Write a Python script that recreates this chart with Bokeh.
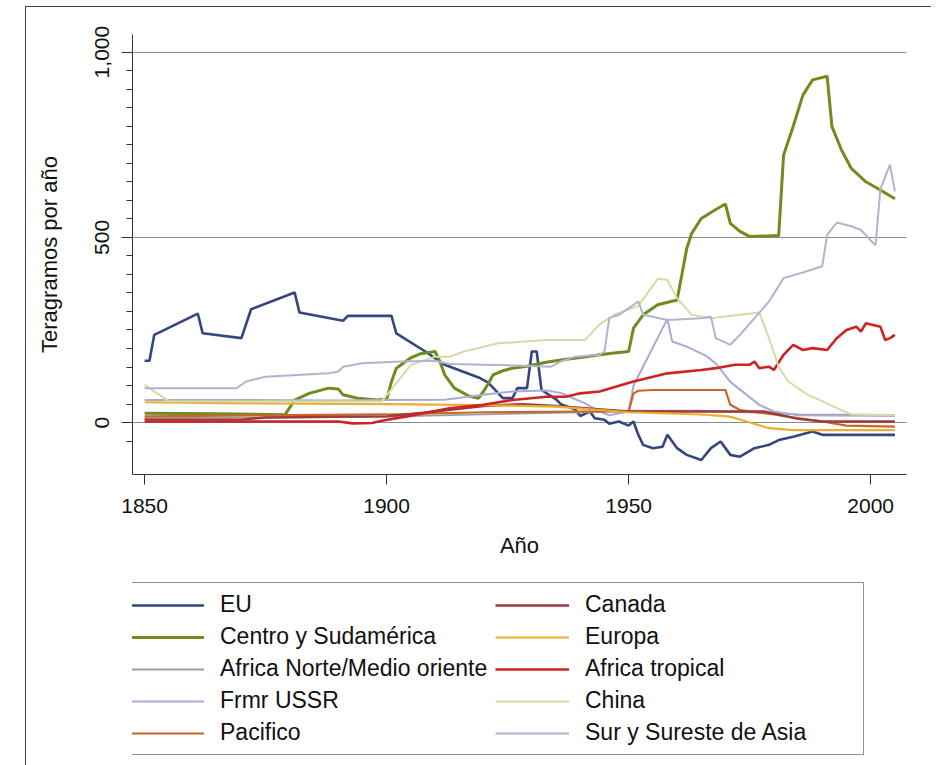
from bokeh.plotting import figure
from bokeh.layouts import column
from bokeh.models import (Range1d, FixedTicker, NumeralTickFormatter, Legend, LegendItem)
from bokeh.embed import file_html
from bokeh.resources import INLINE

# ---------------- data (Teragramos por año) ----------------
eu_pts = [(1850, 167), (1851, 167), (1852, 237), (1861, 294), (1862, 241), (1870, 228), (1872, 306),
          (1881, 351), (1882, 297), (1891, 275), (1892, 288), (1901, 288), (1902, 241), (1908, 192),
          (1912, 156), (1919, 122), (1921, 108), (1924, 66), (1926, 66), (1927, 93), (1929, 93),
          (1930, 192), (1931, 192), (1932, 88), (1935, 63), (1936, 50), (1939, 35), (1940, 18),
          (1942, 30), (1943, 12), (1945, 8), (1946, -3), (1948, 3), (1950, -8), (1951, 3), (1952, -33),
          (1953, -60), (1955, -69), (1957, -65), (1958, -33), (1960, -69), (1962, -87), (1965, -101),
          (1967, -69), (1969, -51), (1971, -87), (1973, -92), (1976, -69), (1979, -60), (1981, -47),
          (1984, -38), (1988, -24), (1990, -33), (2005, -33)]
csa_pts = [(1850, 25), (1865, 24), (1879, 21), (1881, 61), (1884, 79), (1888, 93), (1890, 91), (1891, 75),
           (1894, 66), (1898, 61), (1900, 63), (1901, 110), (1902, 147), (1905, 175), (1907, 186),
           (1910, 192), (1911, 165), (1912, 129), (1914, 93), (1917, 72), (1919, 66), (1920, 84),
           (1921, 105), (1922, 129), (1924, 140), (1926, 147), (1929, 152), (1933, 163), (1936, 169),
           (1940, 176), (1944, 183), (1947, 188), (1950, 192), (1951, 255), (1953, 291), (1956, 318),
           (1960, 331), (1961, 400), (1962, 470), (1963, 510), (1965, 551), (1968, 575), (1970, 590),
           (1971, 538), (1973, 516), (1975, 502), (1981, 505), (1982, 722), (1984, 800), (1986, 884),
           (1988, 925), (1991, 935), (1992, 799), (1994, 735), (1996, 686), (1999, 650), (2002, 628),
           (2005, 604)]
anmo_pts = [(1850, 12), (1880, 14), (1900, 16), (1920, 22), (1940, 28), (1950, 32), (1965, 32),
            (1975, 28), (1985, 22), (2005, 21)]
ussr_pts = [(1850, 61), (1870, 61), (1890, 60), (1900, 61), (1912, 62), (1920, 75), (1926, 84),
            (1933, 87), (1936, 80), (1941, 52), (1944, 30), (1946, 20), (1950, 30), (1951, 100),
            (1958, 280), (1959, 219), (1962, 205), (1966, 180), (1968, 160), (1971, 110), (1977, 48),
            (1980, 30), (1985, 20), (2005, 18)]
pacifico_pts = [(1850, 17), (1880, 20), (1900, 22), (1920, 28), (1940, 30), (1950, 30), (1951, 79),
                (1952, 86), (1955, 88), (1970, 88), (1971, 48), (1973, 34), (1980, 22), (1990, 3),
                (1995, -8), (2005, -11)]
canada_pts = [(1850, 8), (1870, 8), (1875, 14), (1900, 17), (1910, 30), (1920, 45), (1928, 50),
              (1935, 45), (1945, 35), (1950, 30), (1978, 30), (1985, 10), (1990, 3), (2005, 3)]
europa_pts = [(1850, 55), (1870, 52), (1900, 50), (1920, 47), (1935, 43), (1950, 28), (1965, 22),
              (1971, 16), (1979, -15), (1984, -20), (2005, -20)]
afrtrop_pts = [(1850, 3), (1890, 3), (1893, -2), (1897, -1), (1899, 5), (1906, 21), (1913, 39),
               (1920, 48), (1926, 61), (1933, 70), (1937, 70), (1940, 79), (1944, 84), (1951, 111),
               (1958, 133), (1965, 142), (1968, 147), (1972, 156), (1975, 156), (1976, 165), (1977, 147),
               (1979, 151), (1980, 142), (1982, 183), (1984, 210), (1986, 196), (1988, 201), (1991, 196),
               (1993, 228), (1995, 250), (1997, 259), (1998, 246), (1999, 268), (2002, 259), (2003, 223),
               (2004, 228), (2005, 237)]
china_pts = [(1850, 102), (1855, 58), (1880, 57), (1899, 58), (1901, 90), (1905, 156), (1910, 178),
             (1913, 178), (1916, 192), (1923, 214), (1933, 223), (1941, 223), (1944, 265), (1947, 291),
             (1952, 315), (1956, 388), (1958, 385), (1960, 336), (1963, 291), (1967, 282), (1977, 297),
             (1979, 228), (1981, 150), (1983, 111), (1987, 75), (1990, 58), (1993, 39), (1996, 22),
             (2005, 20)]
sur_pts = [(1850, 93), (1869, 93), (1871, 111), (1875, 124), (1888, 133), (1890, 138), (1891, 151),
           (1895, 160), (1903, 165), (1910, 167), (1913, 158), (1925, 155), (1934, 151), (1936, 165),
           (1939, 178), (1944, 183), (1945, 192), (1946, 282), (1948, 291), (1952, 327), (1953, 291),
           (1958, 277), (1965, 282), (1967, 286), (1968, 228), (1971, 210), (1973, 237), (1976, 282),
           (1979, 327), (1982, 390), (1986, 405), (1990, 422), (1991, 507), (1993, 540), (1996, 530),
           (1998, 520), (2001, 478), (2002, 630), (2004, 696), (2005, 624)]

series_names = ["EU", "Centro y Sudamérica", "Africa Norte/Medio oriente", "Frmr USSR", "Pacifico",
                "Canada", "Europa", "Africa tropical", "China", "Sur y Sureste de Asia"]
series_points = [eu_pts, csa_pts, anmo_pts, ussr_pts, pacifico_pts,
                 canada_pts, europa_pts, afrtrop_pts, china_pts, sur_pts]
series_colors = ["#34467e", "#6f8c1f", "#9d9d9d", "#aaaad6", "#c8652c",
                 "#9c3a3c", "#e8b030", "#cf2222", "#d5dba6", "#b3b3cf"]
series_widths = [2.6, 3, 1.8, 2, 2.2, 2.4, 2.2, 2.6, 2, 2]

y_major = [0, 500, 1000]
y_minor = [v for v in range(-50, 1001, 50) if v not in (0, 500, 1000)]
x_major = [1850, 1900, 1950, 2000]

FONT = "Liberation Sans"

# ---------------- main chart ----------------
p = figure(width=905, height=560, output_backend="svg", toolbar_location=None,
           x_range=Range1d(1847.5, 2007.4), y_range=Range1d(-140, 1047.5),
           min_border_left=106, min_border_right=25, min_border_top=27, min_border_bottom=93,
           background_fill_color="white", border_fill_color="white")
p.outline_line_color = None

p.xaxis.ticker = FixedTicker(ticks=x_major)
p.yaxis.ticker = FixedTicker(ticks=y_major, minor_ticks=y_minor)
p.yaxis.formatter = NumeralTickFormatter(format="0,0")
for ax in (p.xaxis[0], p.yaxis[0]):
    ax.axis_line_color = "#333333"
    ax.major_tick_line_color = "#333333"
    ax.minor_tick_line_color = "#333333"
    ax.major_tick_in = 0
    ax.minor_tick_in = 0
    ax.major_label_text_font = FONT
    ax.major_label_text_font_size = "21px"
    ax.major_label_text_color = "#111111"
    ax.axis_label_text_font = FONT
    ax.axis_label_text_font_size = "22px"
    ax.axis_label_text_font_style = "normal"
    ax.axis_label_text_color = "#111111"
p.xaxis.major_tick_out = 10
p.xaxis.minor_tick_line_color = None
p.xaxis.major_label_standoff = 14
p.xaxis.axis_label = "Año"
p.xaxis.axis_label_standoff = 17
p.yaxis.major_tick_out = 11
p.yaxis.minor_tick_out = 6
p.yaxis.major_label_orientation = "vertical"
p.yaxis.major_label_standoff = 12
p.yaxis.axis_label = "Teragramos por año"
p.yaxis.axis_label_standoff = 31

p.xgrid.grid_line_color = None
p.ygrid.ticker = FixedTicker(ticks=y_major)
p.ygrid.grid_line_color = "#8a8a8a"
p.ygrid.grid_line_width = 1.2

for name, pts, col, w in zip(series_names, series_points, series_colors, series_widths):
    p.line([a for a, b in pts], [b for a, b in pts], line_color=col, line_width=w)

# ---------------- legend strip (own plot so the box is not clipped) ----------------
# the same series are drawn here too, but this strip's ranges keep them out of view;
# they only provide the legend glyphs
p2 = figure(width=905, height=199, output_backend="svg", toolbar_location=None,
            x_axis_type=None, y_axis_type=None, x_range=Range1d(0, 1), y_range=Range1d(0, 1),
            min_border_left=0, min_border_right=0, min_border_top=0, min_border_bottom=0,
            background_fill_color="white", border_fill_color="white")
p2.outline_line_color = None
p2.grid.visible = False
items = []
for name, pts, col, w in zip(series_names, series_points, series_colors, series_widths):
    r = p2.line([a for a, b in pts], [b for a, b in pts], line_color=col, line_width=w)
    items.append(LegendItem(label=name, renderers=[r]))

legend = Legend(items=items, ncols=2, location=(-11, 11),
                border_line_color="#222222", border_line_width=1.2,
                background_fill_color="white", background_fill_alpha=1,
                label_text_font=FONT, label_text_font_size="23px", label_text_color="#111111",
                glyph_width=74, glyph_height=18, label_height=18, label_standoff=16,
                spacing=5, padding=8, margin=0, label_width=270)
p2.add_layout(legend, "center")

layout = column(p, p2, spacing=0, margin=(6, 0, 0, 25),
                styles={"border-left": "1px solid #444", "border-top": "1px solid #444"})

open("out.html", "w").write(file_html(layout, INLINE))
